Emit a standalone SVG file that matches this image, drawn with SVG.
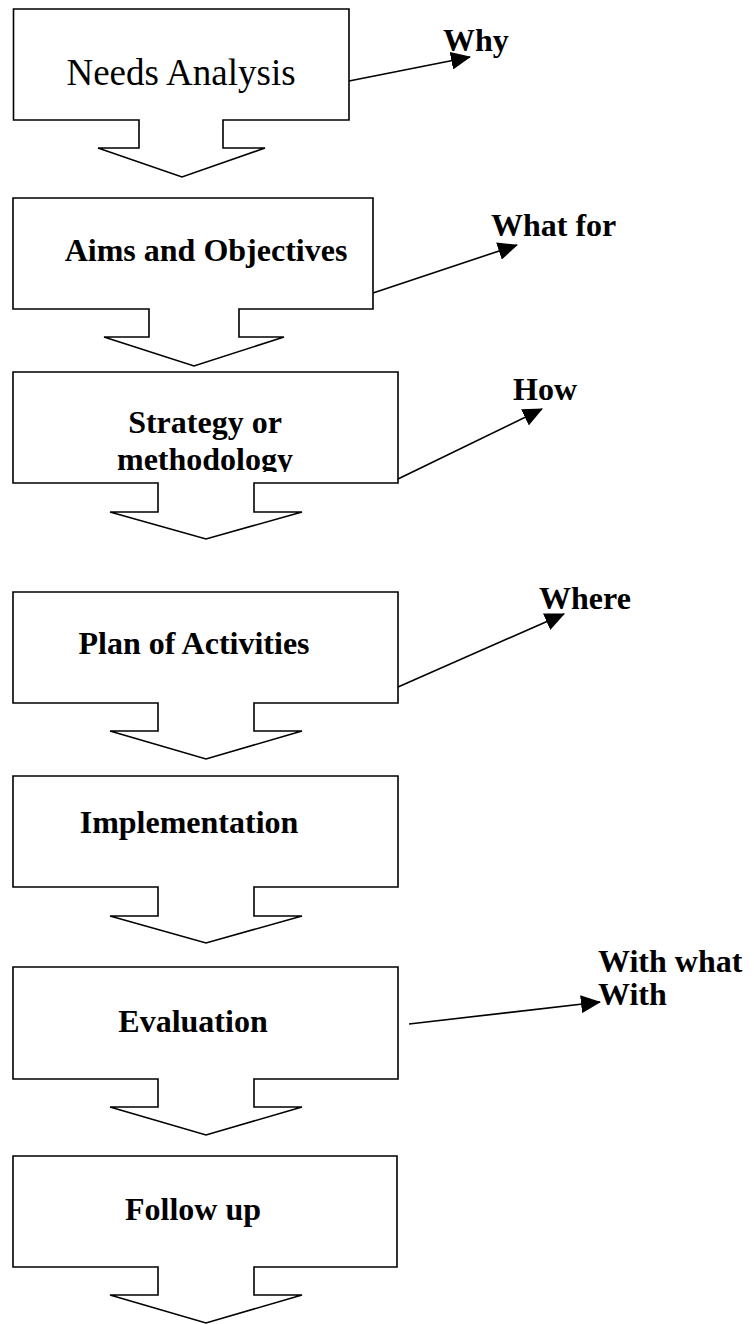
<svg xmlns="http://www.w3.org/2000/svg" width="754" height="1324" viewBox="0 0 754 1324">
  <style>
    .shape { fill: #ffffff; stroke: #000000; stroke-width: 1.6; stroke-linejoin: miter; }
    .lbl { font-family: "Liberation Serif", "Times New Roman", serif; font-size: 32px; font-weight: bold; fill: #000000; }
    .lbl-c { text-anchor: middle; }
    .big { font-family: "Liberation Serif", "Times New Roman", serif; font-size: 37px; font-weight: normal; fill: #000000; text-anchor: middle; }
    .conn { stroke: #000000; stroke-width: 1.6; fill: none; marker-end: url(#ah); }
  </style>
  <defs>
    <marker id="ah" viewBox="0 0 20 18" refX="19" refY="9" markerWidth="20" markerHeight="18" markerUnits="userSpaceOnUse" orient="auto">
      <path d="M0,0 L20,9 L0,18 Z" fill="#000000"/>
    </marker>
    <clipPath id="clipMethod"><rect x="0" y="0" width="754" height="472"/></clipPath>
    <clipPath id="clipWhatFor"><rect x="0" y="0" width="754" height="236"/></clipPath>
  </defs>
  <rect x="0" y="0" width="754" height="1324" fill="#ffffff"/>

  <g id="node-needs-analysis">
    <path class="shape" d="M13.5,9 H349 V120 H223 V148 H265 L182,177 L98,148 H139 V120 H13.5 Z"/>
    <text class="big" x="181" y="85">Needs Analysis</text>
  </g>

  <g id="node-aims">
    <path class="shape" d="M13,198 H373 V309 H239 V337 H284 L194,366 L104,337 H149 V309 H13 Z"/>
    <text class="lbl lbl-c" x="206" y="261">Aims and Objectives</text>
  </g>

  <g id="node-strategy">
    <path class="shape" d="M13,372 H398 V483 H254 V512 H302 L206,539 L110,512 H158 V483 H13 Z"/>
    <text class="lbl lbl-c" x="205" y="433">Strategy or</text>
    <text class="lbl lbl-c" x="205" y="470" clip-path="url(#clipMethod)">methodology</text>
  </g>

  <g id="node-plan">
    <path class="shape" d="M13,592 H398 V703 H254 V731 H302 L206,759 L110,731 H158 V703 H13 Z"/>
    <text class="lbl lbl-c" x="194" y="654">Plan of Activities</text>
  </g>

  <g id="node-implementation">
    <path class="shape" d="M13,776 H398 V887 H254 V916 H302 L206,943 L110,916 H158 V887 H13 Z"/>
    <text class="lbl lbl-c" x="189" y="833">Implementation</text>
  </g>

  <g id="node-evaluation">
    <path class="shape" d="M13,967 H398 V1079 H254 V1107 H302 L206,1135 L110,1107 H158 V1079 H13 Z"/>
    <text class="lbl lbl-c" x="193" y="1032">Evaluation</text>
  </g>

  <g id="node-follow-up">
    <path class="shape" d="M13,1156 H397 V1267 H254 V1295 H302 L206,1323 L110,1295 H158 V1267 H13 Z"/>
    <text class="lbl lbl-c" x="193" y="1220">Follow up</text>
  </g>

  <g id="labels">
    <text class="lbl" x="443" y="51">Why</text>
    <text class="lbl" x="491" y="236" clip-path="url(#clipWhatFor)">What for</text>
    <text class="lbl" x="513" y="400">How</text>
    <text class="lbl" x="539" y="609">Where</text>
    <text class="lbl" x="598" y="972">With what</text>
    <text class="lbl" x="598" y="1005">With</text>
  </g>

  <g id="connectors">
    <line class="conn" x1="349" y1="81" x2="470" y2="57"/>
    <line class="conn" x1="373" y1="293" x2="517" y2="245"/>
    <line class="conn" x1="398" y1="479" x2="542" y2="409"/>
    <line class="conn" x1="398" y1="687" x2="564" y2="614"/>
    <line class="conn" x1="409" y1="1024" x2="600" y2="1002"/>
  </g>
</svg>
